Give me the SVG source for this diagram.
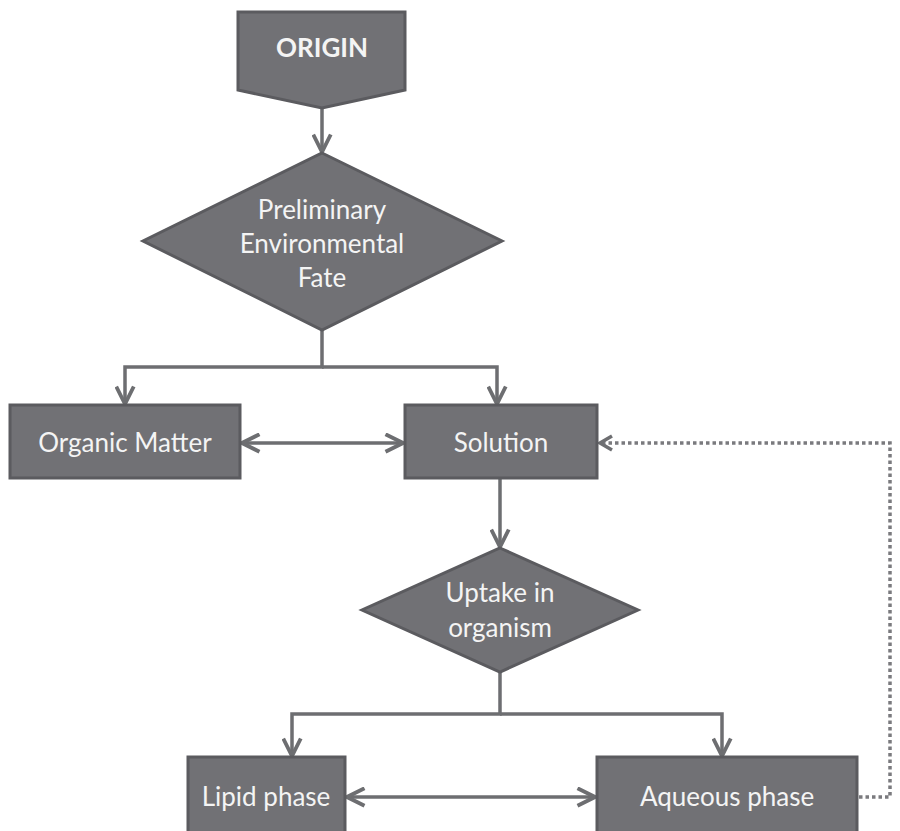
<svg xmlns="http://www.w3.org/2000/svg" width="900" height="831" viewBox="0 0 900 831">
<style>
.node{fill:#717175;stroke:#5b5b5f;stroke-width:3}
.lbl{font-family:Lato,"Open Sans","Liberation Sans",sans-serif;font-size:26px;fill:#f4f4f4;text-anchor:middle}
.con{fill:none;stroke:#6d6e71;stroke-width:3.5}
.dot{fill:none;stroke:#7a7a7e;stroke-width:3.5;stroke-dasharray:3.5 3}
</style>
<defs>
<marker id="ah" viewBox="0 0 12 12" refX="11" refY="6" markerWidth="6" markerHeight="6" markerUnits="strokeWidth" orient="auto-start-reverse">
<path d="M1,1 L11,6 L1,11" fill="none" stroke="#6d6e71" stroke-width="2.2"/>
</marker>
</defs>
<rect width="900" height="831" fill="#ffffff"/>
<g id="connectors">
<path class="con" d="M322,108 V152" marker-end="url(#ah)"/>
<path class="con" d="M322,330 V367 H125 V404" marker-end="url(#ah)"/>
<path class="con" d="M322,367 H497 V404" marker-end="url(#ah)"/>
<path class="con" d="M242,443 H403" marker-start="url(#ah)" marker-end="url(#ah)"/>
<path class="con" d="M500,478 V547" marker-end="url(#ah)"/>
<path class="con" d="M500,672 V714 H292 V756" marker-end="url(#ah)"/>
<path class="con" d="M500,714 H722 V756" marker-end="url(#ah)"/>
<path class="con" d="M347,797 H595" marker-start="url(#ah)" marker-end="url(#ah)"/>
<path class="dot" d="M859,797 H890 V443 H600"/>
<path class="con" d="M612,436 L600,443 L612,450" stroke-width="3"/>
</g>
<g id="origin">
<path class="node" d="M238,12 H405 V90 L322,108 L238,90 Z"/>
<text class="lbl" x="322" y="57" font-weight="bold">ORIGIN</text>
</g>
<g id="fate">
<path class="node" d="M322,153 L502,241 L322,330 L143,241 Z"/>
<text class="lbl" x="322" y="219">Preliminary</text>
<text class="lbl" x="322" y="253">Environmental</text>
<text class="lbl" x="322" y="287">Fate</text>
</g>
<g id="organic">
<rect class="node" x="10" y="405" width="230" height="73"/>
<text class="lbl" x="125" y="452">Organic Matter</text>
</g>
<g id="solution">
<rect class="node" x="405" y="405" width="192" height="73"/>
<text class="lbl" x="501" y="452">Solution</text>
</g>
<g id="uptake">
<path class="node" d="M500,548 L638,610 L500,672 L362,610 Z"/>
<text class="lbl" x="500" y="602">Uptake in</text>
<text class="lbl" x="500" y="637">organism</text>
</g>
<g id="lipid">
<rect class="node" x="188" y="757" width="157" height="80"/>
<text class="lbl" x="266" y="806">Lipid phase</text>
</g>
<g id="aqueous">
<rect class="node" x="597" y="757" width="260" height="80"/>
<text class="lbl" x="727" y="806">Aqueous phase</text>
</g>
</svg>
